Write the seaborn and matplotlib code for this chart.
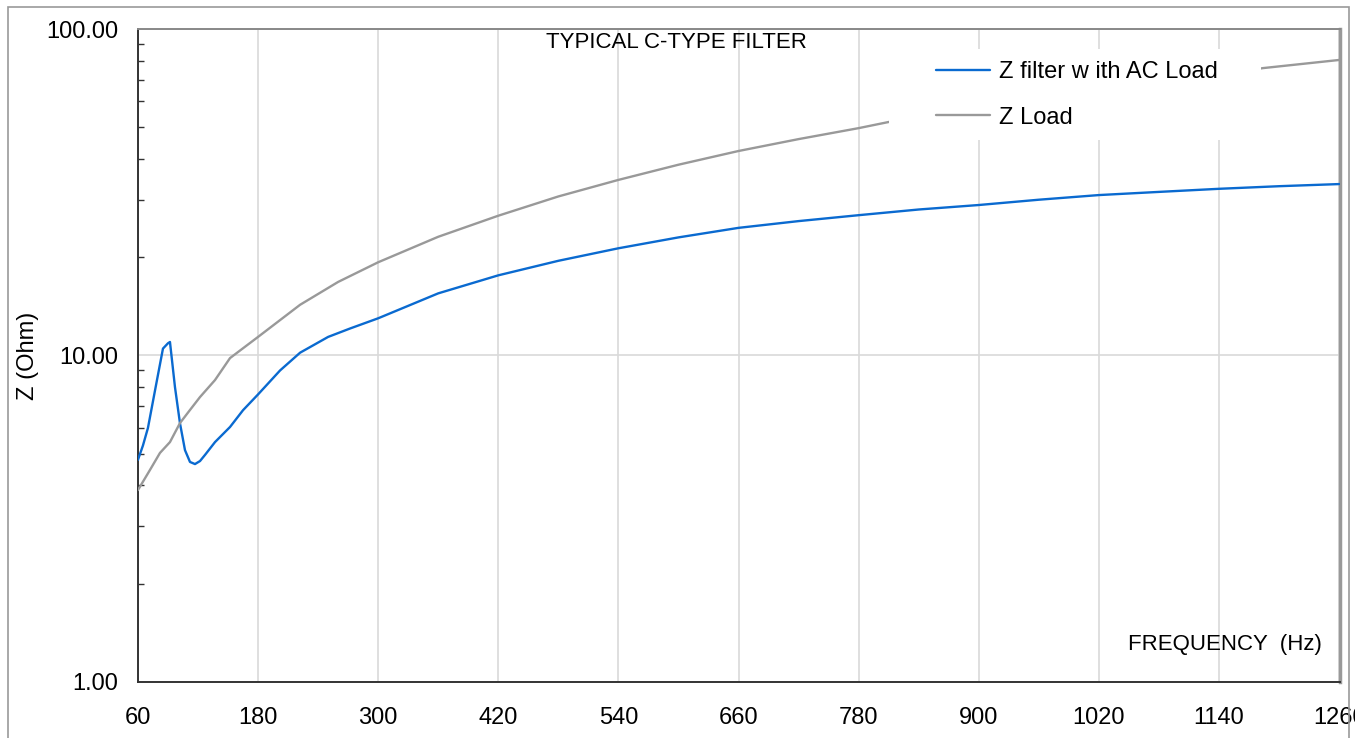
import matplotlib
matplotlib.use("Agg")
import matplotlib.pyplot as plt
from matplotlib.path import Path
from matplotlib.patches import Rectangle
from matplotlib.ticker import FuncFormatter, NullFormatter
import seaborn as sns

# data
freq_filter = [60, 65, 70, 77, 85, 90, 92, 97, 102, 107, 112, 117, 122, 127, 137, 152,
               165, 180, 202, 222, 250, 272, 300, 360, 420, 480, 540, 600, 660, 720,
               780, 840, 900, 960, 1020, 1080, 1140, 1200, 1260]
z_filter = [4.79, 5.3, 6.0, 7.8, 10.5, 10.9, 11.0, 8.0, 6.2, 5.13, 4.72, 4.65, 4.75, 4.96,
            5.43, 6.04, 6.8, 7.6, 9.0, 10.2, 11.4, 12.1, 13.0, 15.5, 17.6, 19.5, 21.3,
            23.0, 24.6, 25.8, 26.9, 28.0, 28.9, 30.0, 31.0, 31.7, 32.4, 33.0, 33.5]

freq_load = [60, 72, 82, 92, 102, 112, 122, 137, 152, 180, 222, 260, 300, 360, 420, 480,
             540, 600, 660, 720, 780, 810, 900, 1020, 1140, 1184, 1262]
z_load = [3.87, 4.46, 5.03, 5.43, 6.21, 6.81, 7.46, 8.41, 9.82, 11.4, 14.3, 16.8, 19.3,
          23.1, 26.8, 30.7, 34.5, 38.4, 42.3, 46.0, 49.7, 51.9, 57.5, 65.0, 72.5, 75.9, 80.5]

x_ticks = [60, 180, 300, 420, 540, 660, 780, 900, 1020, 1140, 1260]
y_ticks = [1, 10, 100]

sns.set_style("white")
plt.rcParams['font.family'] = ['Liberation Sans', 'DejaVu Sans']
plt.rcParams['text.color'] = 'black'
plt.rcParams['axes.labelcolor'] = 'black'

fig, ax = plt.subplots(figsize=(13.55, 7.38), dpi=100)
fig.subplots_adjust(left=0.1018, right=0.989, top=0.9607, bottom=0.0759)

sns.lineplot(x=freq_filter, y=z_filter, color='#0a6ad0', lw=1.7,
             label='Z filter w ith AC Load', ax=ax, zorder=3)
sns.lineplot(x=freq_load, y=z_load, color='#999999', lw=1.7,
             label='Z Load', ax=ax, zorder=3)

ax.set_yscale('log')
ax.set_ylim(1, 100)
ax.set_xlim(60, 1261)
ax.set_xticks(x_ticks)
ax.set_yticks(y_ticks)
ax.yaxis.set_major_formatter(FuncFormatter(lambda v, p: f'{v:.2f}'))
ax.yaxis.set_minor_formatter(NullFormatter())

ax.grid(axis='x', color='#d9d9d9', lw=1.2)
ax.grid(axis='y', which='major', color='#d9d9d9', lw=1.2)
ax.set_axisbelow(True)

for side in ['left', 'bottom']:
    ax.spines[side].set_color('#333333')
    ax.spines[side].set_linewidth(1.4)
ax.spines['top'].set_color('#888888')
ax.spines['top'].set_linewidth(1.4)
ax.spines['right'].set_color('#999999')
ax.spines['right'].set_linewidth(2.5)

ax.tick_params(axis='x', direction='out', length=5, width=1, color='#333333',
               pad=13, labelsize=17, labelcolor='black')
ax.tick_params(axis='y', which='major', direction='inout', length=8, width=1,
               color='#333333', pad=10, labelsize=17, labelcolor='black')
ax.tick_params(axis='y', which='minor', direction='in', length=4, width=1,
               color='#333333', left=True)

ax.set_xlabel('')
ax.set_ylabel('Z (Ohm)', fontsize=17, labelpad=5)

ax.text(0.448, 0.979, 'TYPICAL C-TYPE FILTER', transform=ax.transAxes,
        ha='center', va='center', fontsize=16)
ax.text(0.985, 0.057, 'FREQUENCY  (Hz)', transform=ax.transAxes,
        ha='right', va='center', fontsize=16)

leg = ax.legend(loc='upper left', bbox_to_anchor=(0.654, 0.969), borderaxespad=0,
                frameon=True, fancybox=False, facecolor='white', edgecolor='none',
                framealpha=1, borderpad=0.5, handlelength=2.3, handletextpad=0.35,
                labelspacing=1.0, fontsize=17)


# white legend background that reaches further left and right than the text
def wide_box(x0, y0, width, height, mutation_size):
    x0, x1 = x0 - 1.5 * mutation_size, x0 + width + 1.35 * mutation_size
    y1 = y0 + height
    return Path([(x0, y0), (x1, y0), (x1, y1), (x0, y1), (x0, y0)], closed=True)


leg.get_frame().set_boxstyle(wide_box)

fig.patches.append(Rectangle((8 / 1355, -0.05), 1341 / 1355, 1 - 7 / 738 + 0.05,
                             transform=fig.transFigure, fill=False,
                             edgecolor='#999999', lw=1.2))

plt.savefig('out.png', dpi=100)
